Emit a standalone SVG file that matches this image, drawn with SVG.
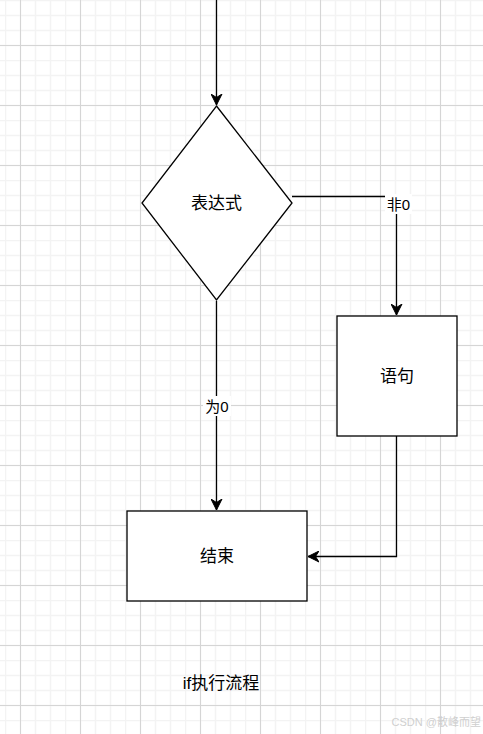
<svg xmlns="http://www.w3.org/2000/svg" width="483" height="734" viewBox="0 0 483 734">
<style>
.node{fill:#ffffff;stroke:#000000;stroke-width:1.3}
.edge{fill:none;stroke:#000000;stroke-width:1.3}
.lbl{font-family:"Liberation Sans","Noto Sans CJK SC",sans-serif;fill:#000000;text-anchor:middle;dominant-baseline:central}
.t{font-size:17px}
.e{font-size:15px}
</style>
<defs>
<pattern id="grid" patternUnits="userSpaceOnUse" x="5" y="0" width="60" height="60">
<path d="M0.5,0 V60 M15.5,0 V60 M30.5,0 V60 M45.5,0 V60 M0,0.5 H60 M0,15.5 H60 M0,30.5 H60 M0,45.5 H60" stroke="#f3f3f3" stroke-width="1.5" fill="none"/>
</pattern>
<pattern id="gridMajor" patternUnits="userSpaceOnUse" x="20" y="45" width="60" height="60">
<path d="M0.5,0 V60 M0,0.5 H60" stroke="#d5d5d5" stroke-width="1" fill="none"/>
</pattern>
<marker id="arr" markerUnits="userSpaceOnUse" markerWidth="12" markerHeight="12" refX="11" refY="6" orient="auto">
<path d="M0,0.5 L11,6 L0,11.5 L3.5,6 Z" fill="#000000" stroke="#000000" stroke-width="1"/>
</marker>
</defs>
<rect width="483" height="734" fill="#ffffff"/>
<rect width="483" height="734" fill="url(#grid)"/>
<rect width="483" height="734" fill="url(#gridMajor)"/>

<g id="connectors">
<path class="edge" d="M216.5,0 V105" marker-end="url(#arr)"/>
<path class="edge" d="M292,196.5 H396.5 V315" marker-end="url(#arr)"/>
<path class="edge" d="M216.5,301 V510" marker-end="url(#arr)"/>
<path class="edge" d="M396.5,436 V556.5 H308" marker-end="url(#arr)"/>
<g id="label-non0">
<rect x="385" y="194" width="27" height="20" fill="#ffffff"/>
<text class="lbl e" x="398.5" y="204">非0</text>
</g>
<g id="label-is0">
<rect x="203" y="396" width="28" height="20" fill="#ffffff"/>
<text class="lbl e" x="217" y="406">为0</text>
</g>
</g>

<g id="node-expr">
<polygon class="node" points="216.5,106 292,203 216.5,300 142,203"/>
<text class="lbl t" x="216.5" y="203">表达式</text>
</g>
<g id="node-stmt">
<rect class="node" x="337" y="316" width="120" height="120"/>
<text class="lbl t" x="397" y="376">语句</text>
</g>
<g id="node-end">
<rect class="node" x="127" y="511" width="180" height="90"/>
<text class="lbl t" x="217" y="556">结束</text>
</g>
<g id="caption">
<text class="lbl t" x="221" y="683">if执行流程</text>
</g>
<text x="481" y="726" font-family="Liberation Sans,'Noto Sans CJK SC',sans-serif" font-size="11" fill="#cfcfcf" text-anchor="end">CSDN @散峰而望</text>
</svg>
